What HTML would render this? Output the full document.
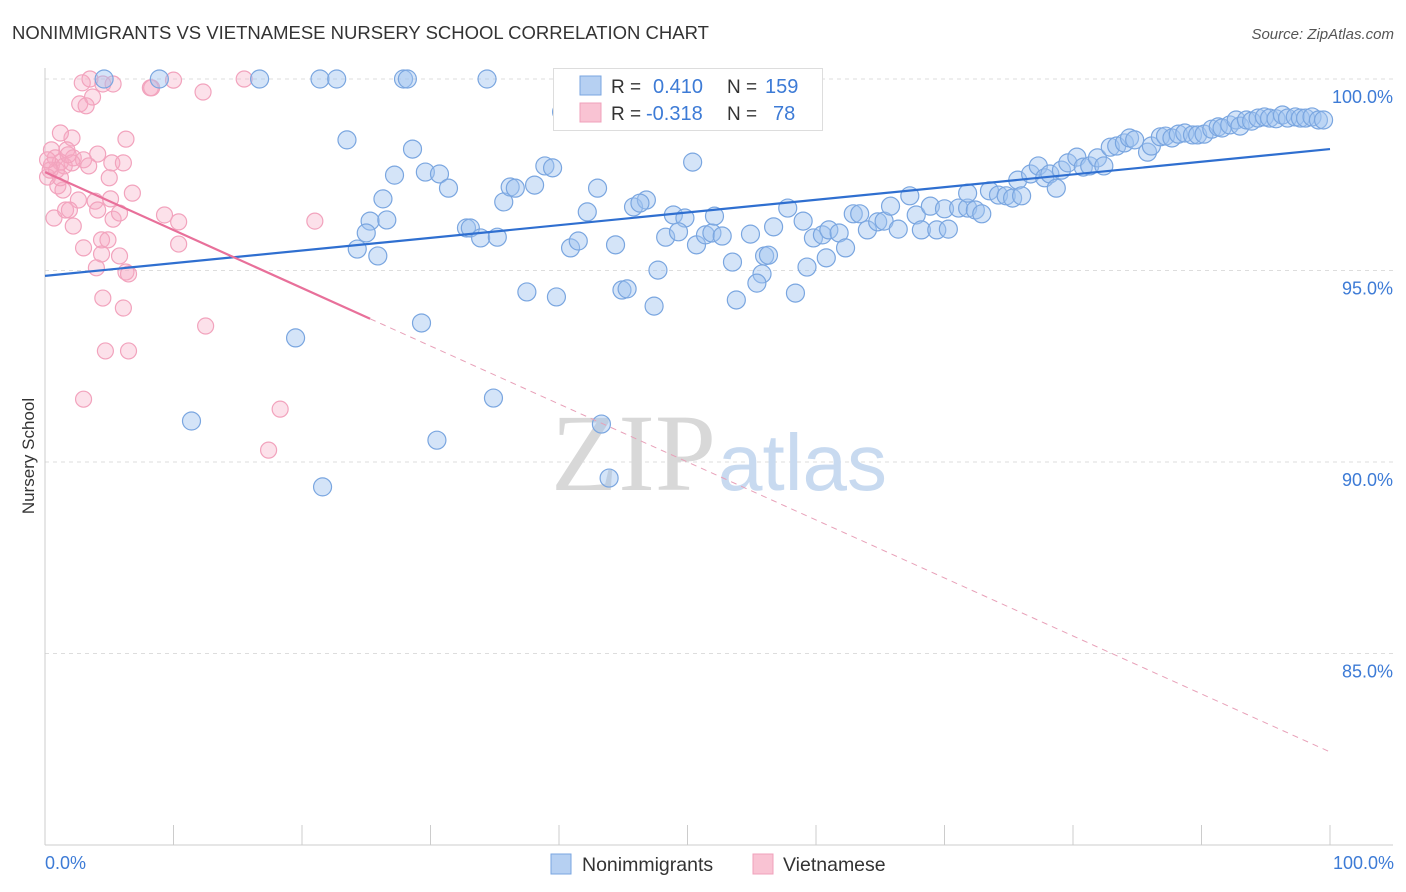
<!DOCTYPE html>
<html><head><meta charset="utf-8"><style>
body{margin:0;background:#fff;font-family:"Liberation Sans",sans-serif}
svg{display:block}
</style></head><body>
<svg id="chart" width="1406" height="892" xmlns="http://www.w3.org/2000/svg">
<text x="12" y="39" font-size="18.5" fill="#333">NONIMMIGRANTS VS VIETNAMESE NURSERY SCHOOL CORRELATION CHART</text>
<text x="1394" y="39" font-size="15" fill="#555" font-style="italic" text-anchor="end">Source: ZipAtlas.com</text>
<g id="grid"></g>
<text x="716" y="490" font-size="110" fill="#d8d8d8" text-anchor="end" font-family="Liberation Serif,serif">ZIP</text>
<text x="718" y="490" font-size="80" fill="#c8daf0">atlas</text>
<g id="pts"></g>
<g id="trend"></g>
<text transform="translate(34,456) rotate(-90)" font-size="17" fill="#333" text-anchor="middle">Nursery School</text>
<text x="45" y="869" font-size="18" fill="#3d7bd6">0.0%</text>
<text x="1394" y="869" font-size="18" fill="#3d7bd6" text-anchor="end">100.0%</text>
<g>
<rect x="553.5" y="68.5" width="269" height="62" fill="#fff" stroke="#ddd"/>
<rect x="580" y="76" width="21" height="19" fill="#b6d0f2" stroke="#7aa6e0"/>
<rect x="580" y="103" width="21" height="19" fill="#f9c3d3" stroke="#f0a0bb"/>
<text x="611" y="93" font-size="19" fill="#333">R =</text>
<text x="653" y="93" font-size="20" fill="#3d7bd6">0.410</text>
<text x="727" y="93" font-size="19" fill="#333">N =</text>
<text x="765" y="93" font-size="20" fill="#3d7bd6">159</text>
<text x="611" y="120" font-size="19" fill="#333">R =</text>
<text x="646" y="120" font-size="20" fill="#3d7bd6">-0.318</text>
<text x="727" y="120" font-size="19" fill="#333">N =</text>
<text x="773" y="120" font-size="20" fill="#3d7bd6">78</text>
</g>
<g>
<rect x="551" y="854" width="20" height="20" fill="#b6d0f2" stroke="#7aa6e0"/>
<text x="582" y="871" font-size="19.5" fill="#333">Nonimmigrants</text>
<text x="783" y="871" font-size="19.5" fill="#333">Vietnamese</text>
<rect x="753" y="854" width="20" height="20" fill="#f9c3d3" stroke="#f0a0bb"/>
</g>
</svg>
<script>
const yTicks=[100,95,90,85];
const yTickLabels=["100.0%","95.0%","90.0%","85.0%"];
const xTicks=[0,10,20,30,40,50,60,70,80,90,100];
const blueX=[4.6,8.9,16.7,21.4,22.7,27.9,28.2,34.4,40.2,23.5,28.6,27.2,29.6,30.7,26.3,31.4,25.3,26.6,25.0,24.3,25.9,32.8,33.1,33.9,35.2,35.7,36.2,36.6,38.1,38.9,39.5,43.0,42.2,40.9,41.5,44.4,45.8,46.8,46.3,47.7,48.3,48.9,49.8,49.3,50.7,50.4,51.4,51.9,52.1,52.7,53.5,54.9,56.0,56.3,55.8,55.4,53.8,56.7,57.8,59.0,59.3,59.8,60.5,61.0,61.8,60.8,62.3,62.9,63.4,64.0,64.8,65.3,65.8,66.4,67.3,67.8,68.2,68.9,69.4,70.0,70.3,71.1,71.8,72.4,71.8,72.9,73.5,74.2,74.8,75.3,75.7,76.0,76.7,77.3,77.8,78.2,78.7,79.1,79.6,80.3,80.8,81.3,81.9,82.4,82.9,83.4,84.0,84.4,84.8,85.8,86.1,86.8,87.2,87.7,88.2,88.7,89.3,89.7,90.2,90.8,91.3,91.6,92.2,92.7,93.0,93.5,93.9,94.4,94.9,95.3,95.8,96.3,96.7,97.3,97.7,98.1,98.6,99.1,99.5,19.5,29.3,11.4,34.9,43.3,30.5,21.6,43.9,37.5,39.8,44.9,45.3,47.4,58.4];
const blueY=[100,100,100,100,100,100,100,100,99.14,98.41,98.17,97.49,97.57,97.52,96.87,97.15,96.29,96.32,95.98,95.56,95.38,96.11,96.11,95.85,95.87,96.79,97.18,97.15,97.23,97.73,97.68,97.15,96.53,95.59,95.77,95.67,96.66,96.84,96.76,95.01,95.87,96.45,96.37,96.01,95.67,97.83,95.93,95.98,96.42,95.90,95.22,95.95,95.38,95.40,94.91,94.67,94.23,96.14,96.63,96.29,95.09,95.85,95.93,96.06,95.98,95.33,95.59,96.48,96.48,96.06,96.27,96.29,96.68,96.08,96.95,96.45,96.06,96.68,96.06,96.61,96.08,96.63,96.63,96.58,97.02,96.48,97.08,96.97,96.95,96.89,97.36,96.95,97.52,97.73,97.42,97.52,97.15,97.62,97.81,97.96,97.70,97.73,97.94,97.73,98.22,98.25,98.33,98.46,98.41,98.09,98.25,98.49,98.51,98.46,98.56,98.59,98.54,98.54,98.56,98.69,98.75,98.72,98.80,98.93,98.77,98.93,98.90,98.98,99.01,98.98,98.96,99.06,98.98,99.01,98.98,98.98,99.01,98.93,98.93,93.24,93.63,91.07,91.67,90.99,90.57,89.35,89.58,94.44,94.31,94.49,94.52,94.07,94.41];
const pinkX=[2.9,3.5,4.5,8.2,8.3,10.0,12.3,15.5,5.3,3.7,2.7,3.2,2.1,1.2,6.3,0.5,0.8,1.2,1.7,2.2,3.0,4.1,0.5,0.9,1.5,2.1,3.4,5.2,6.1,0.2,1.0,1.4,2.6,3.9,5.0,5.1,6.8,0.7,1.6,1.9,2.2,4.1,5.3,5.8,9.3,10.4,3.0,4.4,4.4,4.9,5.8,6.3,6.5,4.0,10.4,21.0,4.5,6.1,12.5,4.7,6.5,3.0,18.3,17.4,0.4,0.2,1.2,1.8];
const pinkY=[99.90,100,99.87,99.77,99.77,99.97,99.66,100,99.87,99.53,99.35,99.30,98.46,98.59,98.43,98.15,97.94,97.83,98.15,97.94,97.89,98.04,97.75,97.62,97.73,97.81,97.73,97.81,97.81,97.44,97.21,97.10,96.84,96.81,97.42,96.87,97.02,96.37,96.58,96.58,96.16,96.58,96.34,96.50,96.45,96.27,95.59,95.80,95.43,95.80,95.38,94.96,94.91,95.07,95.69,96.29,94.28,94.02,93.55,92.90,92.90,91.64,91.38,90.31,97.62,97.89,97.42,98.02];
const blueTrend=[94.86,98.17];
const pinkTrend=[97.57,82.43];
const pinkSolidEnd=25.3;
const NS='http://www.w3.org/2000/svg';
const X=v=>45+v*12.85, Y=v=>79+(100-v)*38.3;
function mk(tag,attrs,parent){const e=document.createElementNS(NS,tag);for(const k in attrs)e.setAttribute(k,attrs[k]);parent.appendChild(e);return e;}
const grid=document.getElementById('grid');
yTicks.forEach((t,i)=>{
 const l=mk('line',{x1:45,x2:1393,y1:Y(t),y2:Y(t),stroke:'#ddd','stroke-dasharray':'4 4'},grid);
 
 
 const tx=mk('text',{x:1393,y:Y(t)+24,'font-size':18,fill:'#3d7bd6','text-anchor':'end'},grid);
 tx.textContent=yTickLabels[i];
 
 
});
const ax=mk('line',{x1:45,x2:45,y1:68,y2:845,stroke:'#ccc'},grid);


const bx=mk('line',{x1:45,x2:1393,y1:845,y2:845,stroke:'#ccc'},grid);


xTicks.forEach(t=>{
 const l=mk('line',{x1:X(t),x2:X(t),y1:825,y2:845,stroke:'#ccc'},grid);
 
 
});
const pts=document.getElementById('pts');
pinkX.forEach((v,i)=>{
 const c=mk('circle',{cx:X(v),cy:Y(pinkY[i]),r:8,fill:'rgba(246,170,196,0.35)',stroke:'#f2a3bd','stroke-width':1.2},pts);
 
 
});
blueX.forEach((v,i)=>{
 const c=mk('circle',{cx:X(v),cy:Y(blueY[i]),r:9,fill:'rgba(160,196,240,0.45)',stroke:'#7aa6e0','stroke-width':1.2},pts);
 
 
});
const tr=document.getElementById('trend');
const bl=mk('line',{x1:X(0),y1:Y(blueTrend[0]),x2:X(100),y2:Y(blueTrend[1]),stroke:'#2f6fd0','stroke-width':2.2},tr);


const pAt=x=>pinkTrend[0]+(pinkTrend[1]-pinkTrend[0])*x/100;
const ps=mk('line',{x1:X(0),y1:Y(pAt(0)),x2:X(pinkSolidEnd),y2:Y(pAt(pinkSolidEnd)),stroke:'#e8709a','stroke-width':2.2},tr);


const pd=mk('line',{x1:X(pinkSolidEnd),y1:Y(pAt(pinkSolidEnd)),x2:X(100),y2:Y(pAt(100)),stroke:'#e8a0b8','stroke-width':1,'stroke-dasharray':'6 5'},tr);


</script>
</body></html>
